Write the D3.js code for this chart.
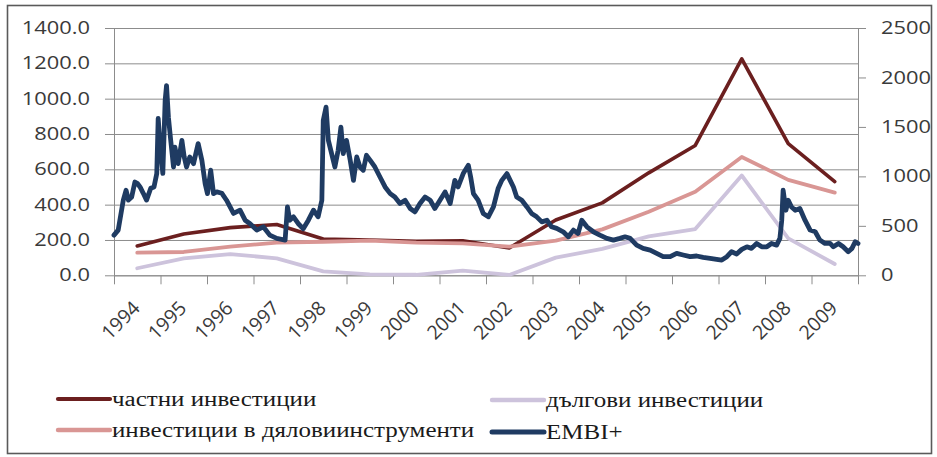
<!DOCTYPE html>
<html>
<head>
<meta charset="utf-8">
<script src="https://cdn.jsdelivr.net/npm/d3@7"></script>
<style>
  body { margin: 0; background: #fff; }
  svg { display: block; }
</style>
</head>
<body>
<svg id="chart" width="937" height="457"></svg>
<script>
// ---- data -------------------------------------------------------------
const years = ["1994","1995","1996","1997","1998","1999","2000","2001",
               "2002","2003","2004","2005","2006","2007","2008","2009"];
const leftTicks  = [0, 200, 400, 600, 800, 1000, 1200, 1400];
const rightTicks = [0, 500, 1000, 1500, 2000, 2500];

// annual flows (left axis)
const privateInv = [166, 234, 270, 288, 205, 200, 192, 196, 155, 313, 410, 580, 735, 1225, 745, 530];
const debtInv    = [40, 96, 120, 96, 22, 5, 3, 26, 2, 100, 150, 220, 262, 565, 209, 64];
const equityInv  = [128, 132, 162, 185, 190, 196, 185, 181, 162, 196, 260, 360, 473, 670, 540, 468];

// EMBI+ spread (right axis); position along the year axis, in years
const embiT = [1994.00,1994.09,1994.20,1994.26,1994.31,1994.38,1994.45,1994.50,1994.56,1994.63,
  1994.70,1994.79,1994.86,1994.92,1994.95,1994.99,1995.05,1995.10,1995.13,1995.17,
  1995.22,1995.28,1995.31,1995.38,1995.46,1995.51,1995.56,1995.63,1995.71,1995.81,
  1995.89,1995.96,1996.01,1996.08,1996.14,1996.21,1996.32,1996.42,1996.57,1996.71,
  1996.82,1996.92,1997.07,1997.21,1997.35,1997.50,1997.68,1997.73,1997.78,1997.86,
  1997.96,1998.07,1998.18,1998.29,1998.39,1998.47,1998.50,1998.56,1998.61,1998.68,
  1998.75,1998.82,1998.88,1998.93,1999.00,1999.08,1999.15,1999.22,1999.29,1999.36,
  1999.43,1999.51,1999.61,1999.72,1999.83,1999.94,2000.04,2000.15,2000.26,2000.37,
  2000.47,2000.58,2000.69,2000.80,2000.90,2001.01,2001.12,2001.23,2001.33,2001.40,
  2001.51,2001.62,2001.67,2001.73,2001.83,2001.94,2002.05,2002.16,2002.26,2002.34,
  2002.45,2002.52,2002.59,2002.66,2002.77,2002.88,2002.98,2003.09,2003.20,2003.31,
  2003.41,2003.52,2003.66,2003.77,2003.88,2003.98,2004.06,2004.17,2004.31,2004.45,
  2004.60,2004.74,2004.88,2004.99,2005.10,2005.24,2005.38,2005.53,2005.67,2005.81,
  2005.96,2006.10,2006.24,2006.39,2006.53,2006.67,2006.82,2006.96,2007.07,2007.18,
  2007.28,2007.39,2007.50,2007.61,2007.71,2007.82,2007.93,2008.04,2008.14,2008.25,
  2008.32,2008.36,2008.39,2008.45,2008.50,2008.57,2008.65,2008.75,2008.86,2008.97,
  2009.08,2009.18,2009.29,2009.40,2009.47,2009.58,2009.68,2009.79,2009.87,2009.94,2010.00];
const embiV = [406,457,760,860,760,792,943,930,893,829,
  760,880,893,1030,1585,1333,1030,1767,1918,1599,
  1364,1095,1296,1129,1364,1196,1095,1196,1129,1331,
  1162,927,826,1062,826,843,829,759,625,658,
  557,524,457,490,406,373,356,691,557,591,
  524,470,557,658,591,759,1565,1700,1364,1230,
  1095,1263,1498,1230,1364,1162,960,1196,1095,1062,
  1213,1162,1095,994,893,826,792,726,759,675,
  641,726,792,759,675,759,843,726,960,893,
  1028,1112,994,826,759,625,591,691,877,960,
  1028,960,893,792,759,691,625,591,540,557,
  490,474,440,389,457,423,557,490,440,406,
  373,356,373,389,373,305,272,255,222,188,
  188,222,205,188,195,181,171,161,154,188,
  238,215,262,288,272,322,288,288,322,305,
  373,557,860,658,759,691,658,675,557,457,
  440,356,322,322,288,322,288,238,272,339,322];

const seriesNames  = ["частни инвестиции", "дългови инвестиции",
                      "инвестиции в дяловиинструменти", "EMBI+"];
const seriesColors = ["#6b1f1f", "#cdc3dc", "#d99694", "#1f3b62"];

// ---- layout -----------------------------------------------------------
const svg = d3.select("#chart");
const plot = { left: 114, right: 858, top: 28, bottom: 275.3 };
const STRETCH = 1.25;               // wide lettering used throughout
const axisFont = "'Open Sans', 'Liberation Sans', sans-serif";
const legendFont = "'Liberation Serif', 'DejaVu Serif', serif";

// outer frame
svg.append("rect")
  .attr("x", 7.5).attr("y", 5.5).attr("width", 924).attr("height", 448)
  .attr("fill", "#fff").attr("stroke", "#5a5a5a").attr("stroke-width", 1.6);

const xBand = d3.scaleBand().domain(years).range([plot.left, plot.right]);
const xYear = d3.scaleLinear().domain([1994, 2010]).range([plot.left, plot.right]);
const yL = d3.scaleLinear().domain([0, 1400]).range([plot.bottom, plot.top]);
const yR = d3.scaleLinear().domain([0, 2500]).range([plot.bottom, plot.top]);
const xc = i => xBand(years[i]) + xBand.bandwidth() / 2;

// horizontal gridlines
svg.append("g")
  .attr("transform", `translate(${plot.left},0)`)
  .call(d3.axisLeft(yL).tickValues(leftTicks).tickSize(-(plot.right - plot.left)).tickFormat(""))
  .call(g => g.select(".domain").remove())
  .call(g => g.selectAll("line").attr("stroke", "#8c8c8c").attr("stroke-width", 1));

function stretchText(sel, k) {
  sel.each(function () {
    const t = d3.select(this);
    const x = +t.attr("x") || 0;
    t.attr("transform", `translate(${x * (1 - k)},0) scale(${k},1)`);
  });
}

function styleAxis(g) {
  g.select(".domain").attr("stroke", "#8c8c8c").attr("stroke-width", 1);
  g.selectAll(".tick line").attr("stroke", "#8c8c8c").attr("stroke-width", 1);
  g.selectAll("text")
    .attr("font-family", axisFont).attr("font-size", 17.5).attr("fill", "#3a3a3a");
}

// left axis
svg.append("g")
  .attr("transform", `translate(${plot.left},0)`)
  .call(d3.axisLeft(yL).tickValues(leftTicks).tickFormat(d3.format(".1f"))
          .tickSize(9).tickPadding(15).tickSizeOuter(0))
  .call(styleAxis)
  .call(g => stretchText(g.selectAll("text"), STRETCH));

// right axis
svg.append("g")
  .attr("transform", `translate(${plot.right},0)`)
  .call(d3.axisRight(yR).tickValues(rightTicks).tickFormat(d3.format("d"))
          .tickSize(8).tickPadding(15).tickSizeOuter(0))
  .call(styleAxis)
  .call(g => stretchText(g.selectAll("text"), STRETCH));

// bottom axis: ticks between categories
svg.append("g")
  .attr("transform", `translate(0,${plot.bottom})`)
  .call(d3.axisBottom(xYear).tickValues(d3.range(1994, 2011)).tickFormat("")
          .tickSize(9).tickSizeOuter(0))
  .call(styleAxis);

// rotated year labels at category centres
svg.append("g").selectAll("text")
  .data(years)
  .join("text")
  .attr("transform", (d, i) => `translate(${xc(i) + 4},${plot.bottom + 34}) rotate(-45)`)
  .attr("text-anchor", "end")
  .attr("font-family", axisFont).attr("font-size", 19.5).attr("fill", "#3a3a3a")
  .text(d => d);

// ---- series -----------------------------------------------------------
const annualLine = d3.line().x((d, i) => xc(i)).y(d => yL(d));
const annual = [
  { values: privateInv, color: seriesColors[0], width: 3.6 },
  { values: debtInv,    color: seriesColors[1], width: 3.8 },
  { values: equityInv,  color: seriesColors[2], width: 3.8 }
];
svg.append("g").selectAll("path")
  .data(annual)
  .join("path")
  .attr("d", s => annualLine(s.values))
  .attr("fill", "none")
  .attr("stroke", s => s.color)
  .attr("stroke-width", s => s.width)
  .attr("stroke-linejoin", "round")
  .attr("stroke-linecap", "round");

const embiLine = d3.line().x((d, i) => xYear(embiT[i])).y(d => yR(d));
svg.append("path")
  .attr("d", embiLine(embiV))
  .attr("fill", "none")
  .attr("stroke", seriesColors[3])
  .attr("stroke-width", 4.8)
  .attr("stroke-linejoin", "round")
  .attr("stroke-linecap", "round");

// ---- legend -----------------------------------------------------------
const legendItems = [
  { name: seriesNames[0], color: seriesColors[0], x: 58,  y: 399, w: 3.6 },
  { name: seriesNames[1], color: seriesColors[1], x: 492, y: 400, w: 3.8 },
  { name: seriesNames[2], color: seriesColors[2], x: 58,  y: 430, w: 3.8 },
  { name: seriesNames[3], color: seriesColors[3], x: 492, y: 432, w: 4.4 }
];
const lg = svg.append("g").selectAll("g").data(legendItems).join("g");
lg.append("line")
  .attr("x1", d => d.x).attr("x2", d => d.x + 52)
  .attr("y1", d => d.y).attr("y2", d => d.y)
  .attr("stroke", d => d.color).attr("stroke-width", d => d.w + 0.6)
  .attr("stroke-linecap", "round");
lg.append("text")
  .attr("transform", d => `translate(${d.x + 54},${d.y + 7}) scale(${STRETCH},1)`)
  .attr("font-family", legendFont).attr("font-size", 20).attr("fill", "#1a1a1a")
  .text(d => d.name);
</script>
</body>
</html>
